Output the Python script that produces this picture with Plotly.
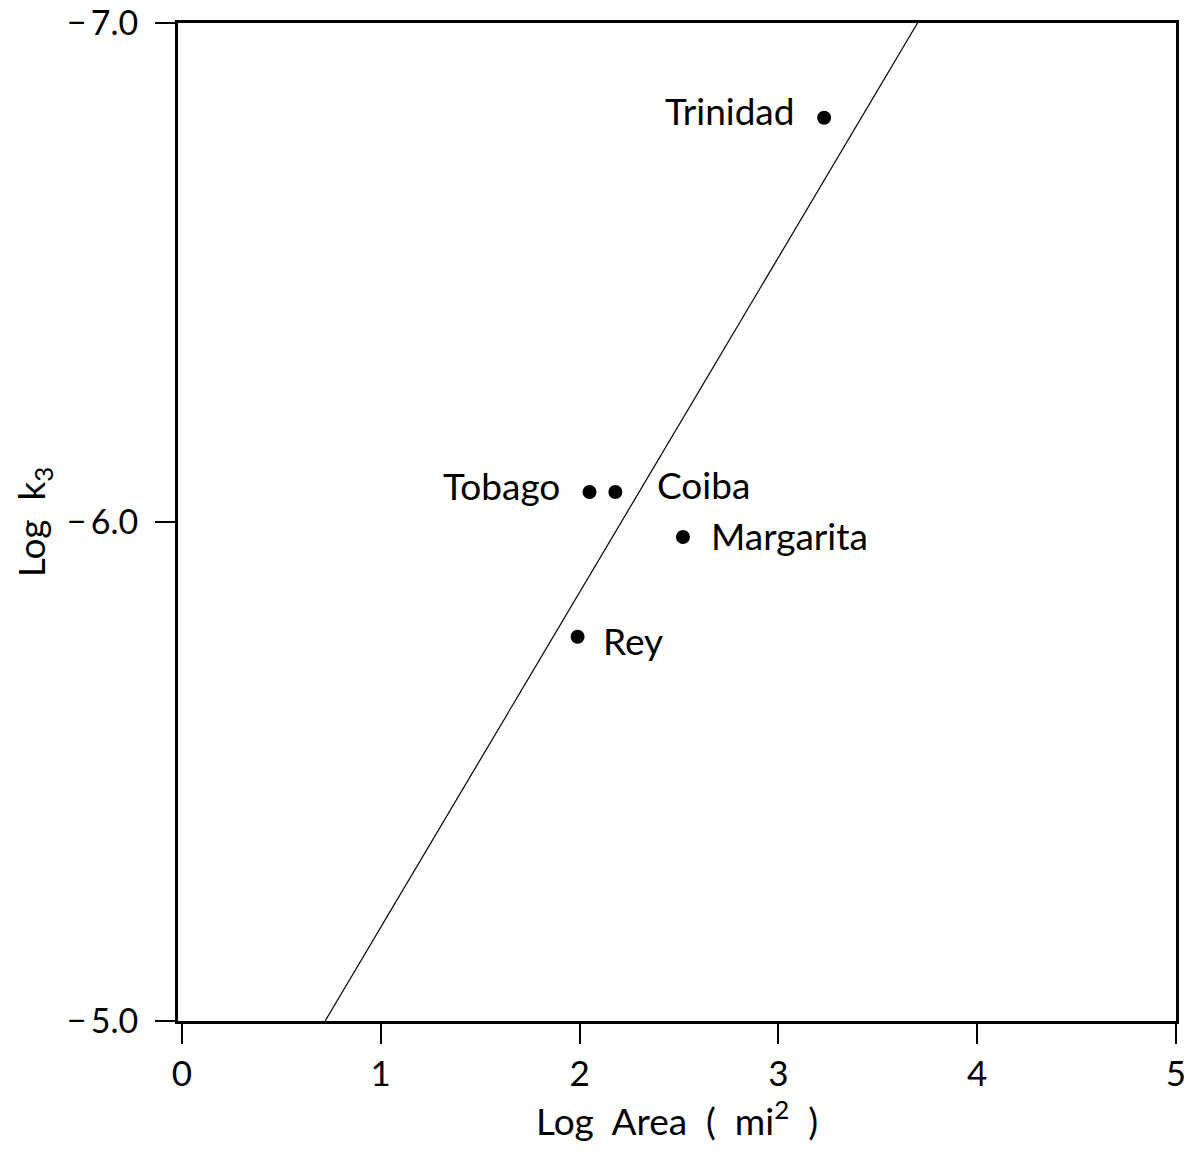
import plotly.graph_objects as go

islands = ["Trinidad", "Tobago", "Coiba", "Margarita", "Rey"]
log_area = [3.23, 2.05, 2.18, 2.52, 1.99]
log_k3 = [-6.81, -6.06, -6.06, -5.97, -5.77]
label_side = ["left", "left", "right", "right", "right"]

fit_x = [0.72, 3.70]
fit_y = [-5.0, -7.0]

x_ticks = [0, 1, 2, 3, 4, 5]
x_ticktext = ["0", "1", "2", "3", "4", "5"]
y_ticks = [-7.0, -6.0, -5.0]
y_ticktext = ["\u2212\u20097.0", "\u2212\u20096.0", "\u2212\u20095.0"]

FONT = "Lato"
TXT = dict(family=FONT, size=37, color="black")

fig = go.Figure()
fig.add_trace(go.Scatter(x=fit_x, y=fit_y, mode="lines",
                         line=dict(color="black", width=1.2), showlegend=False))
fig.add_trace(go.Scatter(x=log_area, y=log_k3, mode="markers",
                         marker=dict(color="black", size=14), showlegend=False))

shifts = {"Trinidad": (-28, 7), "Tobago": (-28, 7), "Coiba": (40, 8),
          "Margarita": (26, 1), "Rey": (23, -4)}
for name, xv, yv, side in zip(islands, log_area, log_k3, label_side):
    xs, ys = shifts[name]
    fig.add_annotation(x=xv, y=yv, text=name, showarrow=False,
                       xanchor="right" if side == "left" else "left",
                       xshift=xs, yshift=ys, font=TXT)

fig.update_xaxes(range=[-0.02, 5.0], tickvals=x_ticks, ticktext=x_ticktext,
                 ticks="outside", ticklen=20, tickwidth=2, tickcolor="black",
                 showline=True, linewidth=3, linecolor="black", mirror=True,
                 showgrid=False, zeroline=False, automargin=False,
                 ticklabeloverflow="allow",
                 tickfont=dict(family=FONT, size=35, color="black"),
                 title=dict(text="Log  Area  (  mi<sup>2</sup>  )", font=TXT))
fig.update_yaxes(range=[-5.0, -7.0], tickvals=y_ticks, ticktext=y_ticktext,
                 ticks="outside", ticklen=20, tickwidth=2, tickcolor="black",
                 showline=True, linewidth=3, linecolor="black", mirror=True,
                 showgrid=False, zeroline=False, automargin=False,
                 ticklabeloverflow="allow", ticklabelstandoff=10,
                 tickfont=dict(family=FONT, size=34, color="black"),
                 title=dict(text="Log  k<sub>3</sub>", font=TXT))

fig.update_layout(width=1191, height=1144, plot_bgcolor="white", paper_bgcolor="white",
                  margin=dict(l=170, r=23, t=15, b=131))

fig.write_html("out.html")
